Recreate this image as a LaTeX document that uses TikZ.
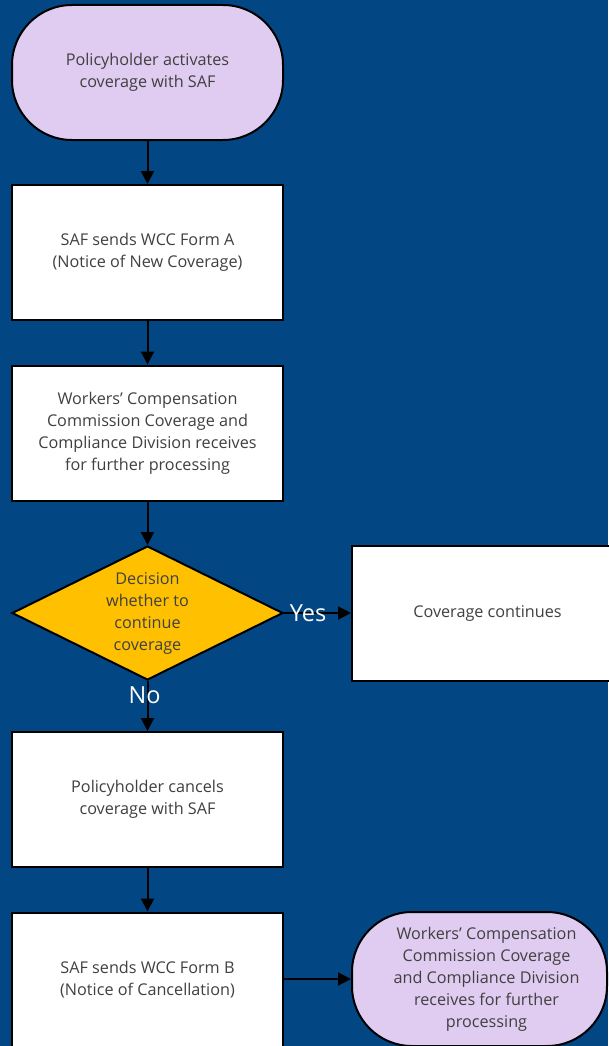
\documentclass[tikz,border=0pt]{standalone}
\usepackage{fontspec}
\setmainfont{Open Sans}
\usetikzlibrary{shapes.geometric,arrows.meta}
\definecolor{bgblue}{HTML}{034684}
\definecolor{lav}{HTML}{E0CCF0}
\definecolor{gold}{HTML}{FFC000}
\definecolor{txt}{HTML}{404040}
\tikzset{
  tfont/.style={font=\fontsize{16.2}{22}\selectfont},
  proc/.style={draw=black, line width=2pt, fill=white, minimum width=271pt, minimum height=135pt,
    inner sep=0pt, align=center, text=txt, tfont},
  term/.style={proc, fill=lav, rounded corners=60pt},
  conn/.style={line width=2pt, -{Triangle[length=13pt,width=13pt]}},
  lbl/.style={text=white, font=\fontsize{23.5}{26}\selectfont, inner sep=0pt}
}
\begin{document}
\begin{tikzpicture}[x=1pt,y=-1pt]
\fill[bgblue] (0,0) rectangle (608,1046);
\useasboundingbox (0,0) rectangle (608,1046);
\node[term] (t1) at (147.5,72.5) {Policyholder activates\\coverage with SAF};
\node[proc] (b2) at (147.5,252.5) {SAF sends WCC Form A\\(Notice of New Coverage)};
\node[proc] (b3) at (147.5,433) {Workers’ Compensation\\Commission Coverage and\\Compliance Division receives\\for further processing};
\node[draw=black, line width=2pt, fill=gold, shape=diamond, minimum width=271pt, minimum height=134pt, inner sep=0pt,
  label={[align=center, text=txt, tfont]center:Decision\\whether to\\continue\\coverage}] (dec) at (147.5,613) {};
\node[proc] (b4) at (487.5,613) {Coverage continues};
\node[proc] (b5) at (147.5,799.5) {Policyholder cancels\\coverage with SAF};
\node[proc] (b6) at (147.5,980) {SAF sends WCC Form B\\(Notice of Cancellation)};
\node[term, minimum width=255pt, minimum height=134pt,
  label={[align=center, text=txt, tfont, xshift=7pt]center:Workers’ Compensation\\Commission Coverage\\and Compliance Division\\receives for further\\processing}] (t2) at (479.5,979) {};
\draw[conn] (t1) -- (b2);
\draw[conn] (b2) -- (b3);
\draw[conn] (b3) -- (dec.north);
\draw[conn] (dec.east) -- node[lbl, pos=0.36] {Yes} (b4);
\draw[conn] (dec.south) -- node[lbl, pos=0.29, xshift=-3pt] {No} (b5);
\draw[conn] (b5) -- (b6);
\draw[conn] (b6.east |- t2.west) -- (t2.west);
\end{tikzpicture}
\end{document}
